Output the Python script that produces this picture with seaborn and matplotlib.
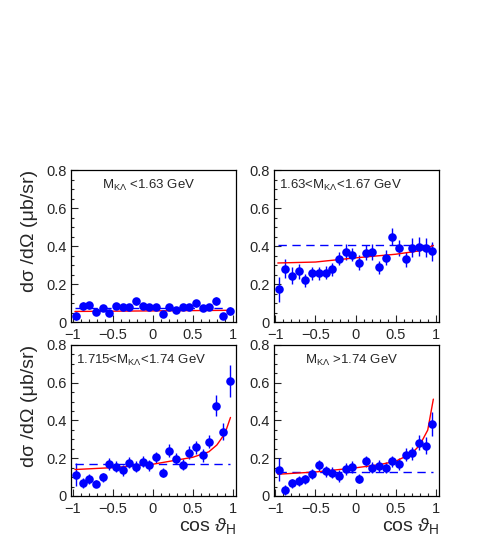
import matplotlib
matplotlib.use("Agg")
import matplotlib.pyplot as plt
import seaborn as sns
import numpy as np
import pandas as pd
from matplotlib.ticker import MultipleLocator

# bin centres of cos theta_H (24 bins)
cos_bins = [-0.958, -0.875, -0.792, -0.708, -0.625, -0.542, -0.458, -0.375,
            -0.292, -0.208, -0.125, -0.042, 0.042, 0.125, 0.208, 0.292,
            0.375, 0.458, 0.542, 0.625, 0.708, 0.792, 0.875, 0.958]

xs_low = [0.032, 0.084, 0.088, 0.053, 0.074, 0.049, 0.084, 0.077, 0.081, 0.109,
          0.084, 0.081, 0.081, 0.044, 0.081, 0.062, 0.081, 0.081, 0.100, 0.074,
          0.077, 0.111, 0.033, 0.058]
err_low = [0.020, 0.020, 0.018, 0.015, 0.015, 0.015, 0.015, 0.015, 0.015, 0.018,
           0.015, 0.015, 0.015, 0.015, 0.015, 0.015, 0.015, 0.015, 0.018, 0.015,
           0.015, 0.020, 0.015, 0.020]

xs_mid1 = [0.172, 0.281, 0.243, 0.267, 0.220, 0.257, 0.257, 0.260, 0.278, 0.334,
           0.369, 0.355, 0.313, 0.366, 0.369, 0.288, 0.338, 0.448, 0.390, 0.331,
           0.392, 0.396, 0.390, 0.373]
err_mid1 = [0.065, 0.050, 0.045, 0.040, 0.035, 0.035, 0.035, 0.035, 0.035, 0.035,
            0.040, 0.035, 0.040, 0.040, 0.040, 0.035, 0.040, 0.045, 0.040, 0.040,
            0.050, 0.050, 0.050, 0.050]

xs_mid2 = [0.113, 0.069, 0.090, 0.065, 0.099, 0.170, 0.156, 0.135, 0.177, 0.156,
           0.181, 0.163, 0.205, 0.124, 0.239, 0.198, 0.166, 0.230, 0.258, 0.216,
           0.287, 0.478, 0.340, 0.611]
err_mid2 = [0.060, 0.025, 0.025, 0.020, 0.025, 0.030, 0.030, 0.030, 0.030, 0.030,
            0.030, 0.030, 0.030, 0.025, 0.035, 0.030, 0.030, 0.035, 0.035, 0.035,
            0.035, 0.055, 0.045, 0.085]

xs_high = [0.140, 0.032, 0.067, 0.080, 0.088, 0.117, 0.163, 0.131, 0.124, 0.106,
           0.142, 0.154, 0.092, 0.184, 0.149, 0.159, 0.149, 0.184, 0.170, 0.218,
           0.227, 0.283, 0.265, 0.381]
err_high = [0.060, 0.025, 0.025, 0.025, 0.025, 0.025, 0.030, 0.030, 0.030, 0.030,
            0.030, 0.030, 0.025, 0.030, 0.030, 0.030, 0.030, 0.030, 0.030, 0.035,
            0.035, 0.040, 0.045, 0.065]

# fitted curves
fit_x_low = [-0.97, 0.0, 0.97]
fit_y_low = [0.056, 0.059, 0.062]
fit_x_mid1 = [-0.97, -0.5, 0.0, 0.5, 0.8, 0.97]
fit_y_mid1 = [0.311, 0.316, 0.338, 0.357, 0.375, 0.403]
fit_x_mid2 = [-0.97, -0.5, 0.0, 0.5, 0.7, 0.8, 0.9, 0.97]
fit_y_mid2 = [0.140, 0.150, 0.168, 0.205, 0.234, 0.270, 0.330, 0.416]
fit_x_high = [-0.97, -0.5, 0.0, 0.3, 0.5, 0.7, 0.8, 0.9, 0.97]
fit_y_high = [0.115, 0.127, 0.149, 0.166, 0.184, 0.225, 0.269, 0.349, 0.513]

# isotropic (flat) reference levels
flat_levels = [0.075, 0.405, 0.168, 0.127]

labels = [r"M$_{\mathrm{K\Lambda}}$ <1.63 GeV",
          r"1.63<M$_{\mathrm{K\Lambda}}$<1.67 GeV",
          r"1.715<M$_{\mathrm{K\Lambda}}$<1.74 GeV",
          r"M$_{\mathrm{K\Lambda}}$ >1.74 GeV"]
label_x = [0.19, 0.03, 0.03, 0.19]

sns.set_theme(style="white")
plt.rcParams["font.family"] = ["Liberation Sans", "DejaVu Sans"]
plt.rcParams["mathtext.fontset"] = "custom"
plt.rcParams["mathtext.rm"] = "Liberation Sans"
plt.rcParams["mathtext.it"] = "Liberation Sans:italic"
plt.rcParams["axes.linewidth"] = 0.9
plt.rcParams["axes.edgecolor"] = "black"

fig = plt.figure(figsize=(4.96, 5.45), dpi=100)
positions = [[0.143, 0.409, 0.333, 0.279],
             [0.552, 0.409, 0.333, 0.279],
             [0.143, 0.090, 0.333, 0.277],
             [0.552, 0.090, 0.333, 0.277]]

series = [(xs_low, err_low, fit_x_low, fit_y_low),
          (xs_mid1, err_mid1, fit_x_mid1, fit_y_mid1),
          (xs_mid2, err_mid2, fit_x_mid2, fit_y_mid2),
          (xs_high, err_high, fit_x_high, fit_y_high)]

for i, (vals, errs, fx, fy) in enumerate(series):
    ax = fig.add_axes(positions[i])
    df = pd.DataFrame({"cos": cos_bins, "xs": vals, "err": errs})
    ax.errorbar(df["cos"], df["xs"], yerr=df["err"], fmt="none",
                ecolor="#0000ff", elinewidth=1.0, zorder=2)
    flat = pd.DataFrame({"x": [-0.97, 0.97], "y": [flat_levels[i]] * 2})
    sns.lineplot(data=flat, x="x", y="y", ax=ax, color="#0000ff",
                 linewidth=1.0, linestyle=(0, (6, 4)), zorder=1)
    fit = pd.DataFrame({"x": fx, "y": fy})
    sns.lineplot(data=fit, x="x", y="y", ax=ax, color="#ff0000",
                 linewidth=1.0, zorder=3)
    sns.scatterplot(data=df, x="cos", y="xs", ax=ax, color="#0000ff",
                    s=38, edgecolor="#0000ff", linewidth=0, zorder=4)

    ax.set_xlim(-1.02, 1.04)
    ax.set_ylim(0, 0.8)
    ax.xaxis.set_major_locator(MultipleLocator(0.5))
    ax.xaxis.set_minor_locator(MultipleLocator(0.1))
    ax.yaxis.set_major_locator(MultipleLocator(0.2))
    ax.yaxis.set_minor_locator(MultipleLocator(0.05))
    ax.set_xticks([-1, -0.5, 0, 0.5, 1])
    ax.set_xticklabels(["\u22121", "\u22120.5", "0", "0.5", "1"])
    ax.set_yticks([0, 0.2, 0.4, 0.6, 0.8])
    ax.set_yticklabels(["0", "0.2", "0.4", "0.6", "0.8"])
    ax.tick_params(which="major", direction="in", length=5, width=0.8,
                   labelsize=10.5, bottom=True, left=True)
    ax.tick_params(axis="x", which="major", pad=4)
    ax.tick_params(axis="y", which="major", pad=3)
    ax.tick_params(which="minor", direction="in", length=2.5, width=0.8,
                   bottom=True, left=True)
    ax.set_xlabel("")
    ax.set_ylabel("")
    ax.text(label_x[i], 0.9, labels[i], transform=ax.transAxes,
            fontsize=9.5, va="center", ha="left")
    if i % 2 == 0:
        ax.set_ylabel("d\u03c3 /d\u03a9 (\u03bcb/sr)", fontsize=14, loc="top",
                      labelpad=6)
    if i >= 2:
        ax.set_xlabel(r"cos $\vartheta_{\rm H}$", fontsize=14, loc="right",
                      labelpad=0)
    for sp in ax.spines.values():
        sp.set_visible(True)
        sp.set_color("black")

fig.savefig("out.png", dpi=100, facecolor="white")
